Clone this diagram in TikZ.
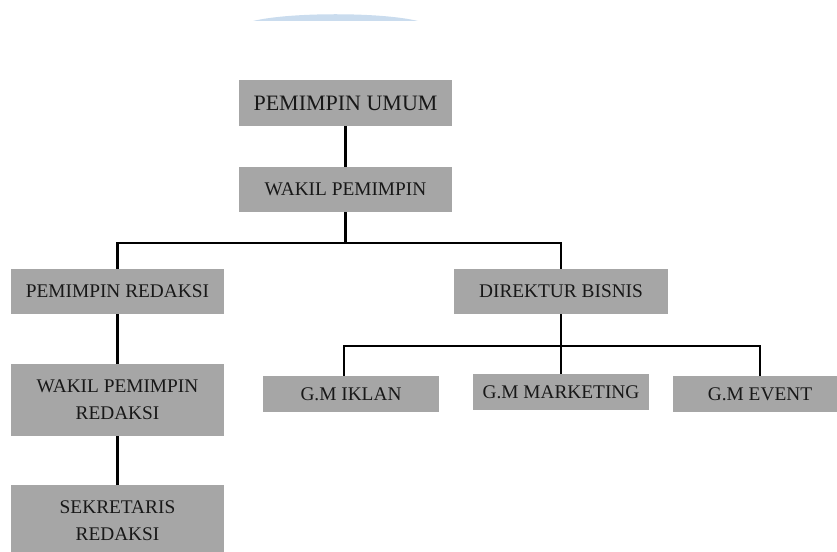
\documentclass[tikz,border=0pt]{standalone}
\usepackage{fontspec}
\setmainfont{Liberation Serif}
\usepackage{tikz}
\usetikzlibrary{shapes,arrows,positioning}
\definecolor{kotak}{RGB}{166,166,166}
\definecolor{teks}{RGB}{24,24,24}
\definecolor{biru}{RGB}{202,220,238}

\begin{document}
\begin{tikzpicture}[x=0.75pt,y=-0.75pt,
  jabatan/.style={rectangle, fill=kotak, text=teks, align=center, inner sep=0pt,
    font=\fontsize{14.5}{20}\selectfont, minimum width=160pt, minimum height=34pt},
  garis/.style={line width=1.6pt, black}]
\useasboundingbox (0,0) rectangle (837,552);
\fill[biru] (253,21) .. controls (290,12) and (381,12) .. (418,21) -- cycle;

\node (umum) [jabatan, font=\fontsize{16.5}{20}\selectfont] at (345.5,103) {PEMIMPIN UMUM};
\node (wakil) [jabatan] at (345.5,189.5) {WAKIL PEMIMPIN};
\node (redaksi) [jabatan] at (117.5,291.5) {PEMIMPIN REDAKSI};
\node (wakilred) [jabatan, minimum height=54pt] at (117.5,400) {WAKIL PEMIMPIN\\REDAKSI};
\node (sekre) [jabatan, minimum height=54pt] at (117.5,521) {SEKRETARIS\\REDAKSI};
\node (bisnis) [jabatan, minimum width=160.5pt] at (561,291.5) {DIREKTUR BISNIS};
\node (iklan) [jabatan, minimum width=132pt, minimum height=27pt] at (351,394) {G.M IKLAN};
\node (marketing) [jabatan, minimum width=132pt, minimum height=27pt] at (561,392) {G.M MARKETING};
\node (event) [jabatan, minimum width=130.5pt, minimum height=27pt] at (760,394) {G.M EVENT};

\coordinate (cabang1) at (347,243);
\coordinate (cabang2) at (562,346);

\draw[garis] (umum) -- (wakil);
\draw[garis] (wakil) -- (wakil |- cabang1) -| (redaksi);
\draw[garis] (wakil |- cabang1) -| (bisnis);
\draw[garis] (redaksi) -- (wakilred);
\draw[garis] (wakilred) -- (sekre);
\draw[garis] (bisnis) -- (marketing);
\draw[garis] (cabang2) -| ([xshift=-5.25pt]iklan.north);
\draw[garis] (cabang2) -| (event);
\end{tikzpicture}
\end{document}
